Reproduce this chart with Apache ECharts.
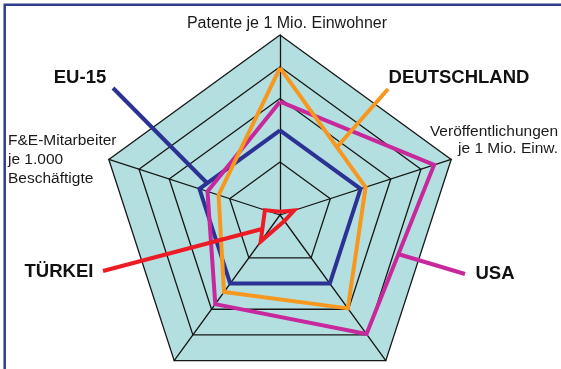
<!DOCTYPE html>
<html>
<head>
<meta charset="utf-8">
<script src="https://cdn.jsdelivr.net/npm/echarts@6/dist/echarts.min.js"></script>
<style>
  html, body { margin: 0; padding: 0; background: #fff; }
  #radar { width: 561px; height: 369px; }
</style>
</head>
<body>
<div id="radar"></div>
<script>
// axes, counter-clockwise from the top
var indicatorNames = ['Patente je 1 Mio. Einwohner', 'F&E-Mitarbeiter je 1.000 Beschäftigte', '', '', 'Veröffentlichungen je 1 Mio. Einw.'];
var axisMax = 170;

// values (outer ring = 170)
var eu15 = [80, 80, 80, 80, 80];
var deutschland = [139, 61, 90, 109, 85];
var usa = [107, 72, 104, 139, 153];
var tuerkei = [3, 15, 31, 7, 14];

// only these rings are drawn (17 steps from the centre)
var visibleRings = [5, 8, 11, 14, 17];

var ringColors = [];
for (var i = 0; i <= 17; i++) {
    ringColors.push(visibleRings.indexOf(i) >= 0 ? '#161616' : 'rgba(0,0,0,0)');
}

var col = { eu: '#2b3293', de: '#f7971e', usa: '#c7289b', tr: '#ed1c24' };
var font = 'Liberation Sans, Arial, sans-serif';

var myChart = echarts.init(document.getElementById('radar'));

option = {
    backgroundColor: '#fff',
    animation: false,
    radar: {
        center: [280, 215],
        radius: 180,
        startAngle: 90,
        splitNumber: 17,
        indicator: indicatorNames.map(function (n) { return { name: n, min: 0, max: axisMax }; }),
        axisName: { show: false },
        axisTick: { show: false },
        axisLabel: { show: false },
        axisLine: { lineStyle: { color: '#161616', width: 1.3 } },
        splitLine: { lineStyle: { color: ringColors, width: 1.3 } },
        splitArea: { areaStyle: { color: ['#b4dfe0'], opacity: 1 } }
    },
    series: [{
        type: 'radar',
        symbol: 'none',
        lineStyle: { width: 4, join: 'miter' },
        data: [
            { name: 'EU-15', value: eu15, lineStyle: { color: col.eu, width: 4 } },
            { name: 'USA', value: usa, lineStyle: { color: col.usa, width: 4 } },
            { name: 'DEUTSCHLAND', value: deutschland, lineStyle: { color: col.de, width: 4 } },
            { name: 'TÜRKEI', value: tuerkei, lineStyle: { color: col.tr, width: 4 } }
        ]
    }],
    graphic: [
        // frame (only top and left edge fall inside the picture)
        { type: 'rect', shape: { x: 4.7, y: 4.7, width: 640, height: 440 }, style: { fill: 'none', stroke: '#2e3c92', lineWidth: 2.5 }, z: 10 },

        // axis names
        { type: 'text', style: { text: 'Patente je 1 Mio. Einwohner', x: 287, y: 24, textAlign: 'center', textVerticalAlign: 'middle', font: '16px ' + font, fill: '#1a1a1a' } },
        { type: 'text', style: { text: 'F&E-Mitarbeiter\nje 1.000\nBeschäftigte', x: 8, y: 131, textAlign: 'left', textVerticalAlign: 'top', lineHeight: 19, font: '15.5px ' + font, fill: '#1a1a1a' } },
        { type: 'text', style: { text: 'Veröffentlichungen\nje 1 Mio. Einw.', x: 558, y: 123, textAlign: 'right', textVerticalAlign: 'top', lineHeight: 17, font: '15.5px ' + font, fill: '#1a1a1a' } },

        // series labels with pointers
        { type: 'line', shape: { x1: 113, y1: 88, x2: 207, y2: 183 }, style: { stroke: col.eu, lineWidth: 4 }, z: 5 },
        { type: 'line', shape: { x1: 388, y1: 89, x2: 337, y2: 147 }, style: { stroke: col.de, lineWidth: 4 }, z: 5 },
        { type: 'line', shape: { x1: 465, y1: 274, x2: 398, y2: 254 }, style: { stroke: col.usa, lineWidth: 4 }, z: 5 },
        { type: 'line', shape: { x1: 103, y1: 271, x2: 262, y2: 229 }, style: { stroke: col.tr, lineWidth: 4 }, z: 5 },
        { type: 'text', style: { text: 'EU-15', x: 80, y: 78, textAlign: 'center', textVerticalAlign: 'middle', font: 'bold 18.5px ' + font, fill: '#111' } },
        { type: 'text', style: { text: 'DEUTSCHLAND', x: 459, y: 78, textAlign: 'center', textVerticalAlign: 'middle', font: 'bold 18.5px ' + font, fill: '#111' } },
        { type: 'text', style: { text: 'USA', x: 495, y: 274, textAlign: 'center', textVerticalAlign: 'middle', font: 'bold 18.5px ' + font, fill: '#111' } },
        { type: 'text', style: { text: 'TÜRKEI', x: 59, y: 272, textAlign: 'center', textVerticalAlign: 'middle', font: 'bold 18.5px ' + font, fill: '#111' } }
    ]
};
myChart.setOption(option);
</script>
</body>
</html>
